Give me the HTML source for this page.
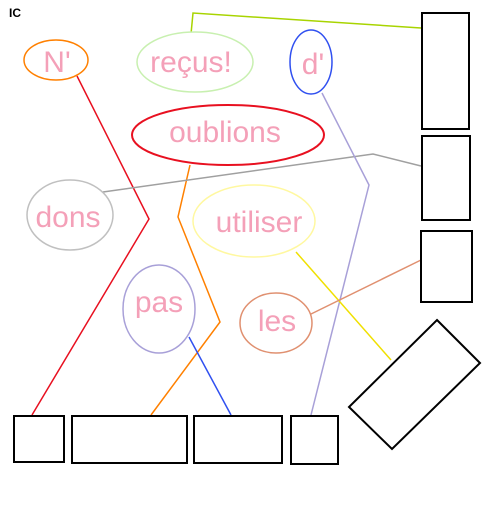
<!DOCTYPE html>
<html><head><style>html,body{margin:0;padding:0;background:#fff}svg{display:block}</style></head><body>
<svg width="485" height="518" xmlns="http://www.w3.org/2000/svg" font-family="Liberation Sans, sans-serif">
<text x="9" y="17" font-size="12" font-weight="bold" fill="#000">IC</text>
<g fill="none" stroke-width="1.5">
<polyline points="191,34 193,13 421,28" stroke="#a8d400"/>
<polyline points="77,76 149,219 32,415" stroke="#e81020"/>
<polyline points="190,165 178,217 220,322 151,415" stroke="#ff8000"/>
<polyline points="103,192 373,154 421,166" stroke="#a0a0a0"/>
<polyline points="322,93 369,185 311,415" stroke="#a8a0d8"/>
<line x1="189" y1="337" x2="231" y2="415" stroke="#3050f0"/>
<line x1="296" y1="252" x2="391" y2="360" stroke="#f0e000"/>
<line x1="309" y1="315" x2="421" y2="260" stroke="#e09070"/>
</g>
<g fill="#fff" stroke-width="1.5">
<ellipse cx="56" cy="60" rx="32" ry="20" stroke="#ff8000"/>
<ellipse cx="195" cy="62" rx="58" ry="30" stroke="#c8f0b0"/>
<ellipse cx="311" cy="62" rx="21" ry="32" stroke="#3050f0"/>
<ellipse cx="228" cy="135" rx="96" ry="30" stroke="#e81020" stroke-width="2"/>
<ellipse cx="70" cy="215" rx="43" ry="35" stroke="#c0c0c0"/>
<ellipse cx="254" cy="221" rx="61" ry="36" stroke="#fff8a0"/>
<ellipse cx="159" cy="309" rx="36" ry="44" stroke="#a8a0d8"/>
<ellipse cx="276" cy="323" rx="36" ry="30" stroke="#e09070"/>
</g>
<g fill="#f4a0b8" font-size="30" text-anchor="middle">
<text x="57" y="72">N'</text>
<text x="191" y="72">reçus!</text>
<text x="313" y="74">d'</text>
<text x="225" y="142">oublions</text>
<text x="68" y="227">dons</text>
<text x="259" y="232">utiliser</text>
<text x="159" y="312">pas</text>
<text x="277" y="331">les</text>
</g>
<g fill="none" stroke="#000" stroke-width="2">
<rect x="422" y="13" width="47" height="116"/>
<rect x="422" y="136" width="48" height="84"/>
<rect x="421" y="231" width="51" height="71"/>
<rect x="14" y="416" width="50" height="46"/>
<rect x="72" y="416" width="115" height="47"/>
<rect x="194" y="416" width="88" height="47"/>
<rect x="291" y="416" width="47" height="48"/>
<polygon points="437,320 480,363 392,449 349,407"/>
</g>
</svg>
</body></html>
